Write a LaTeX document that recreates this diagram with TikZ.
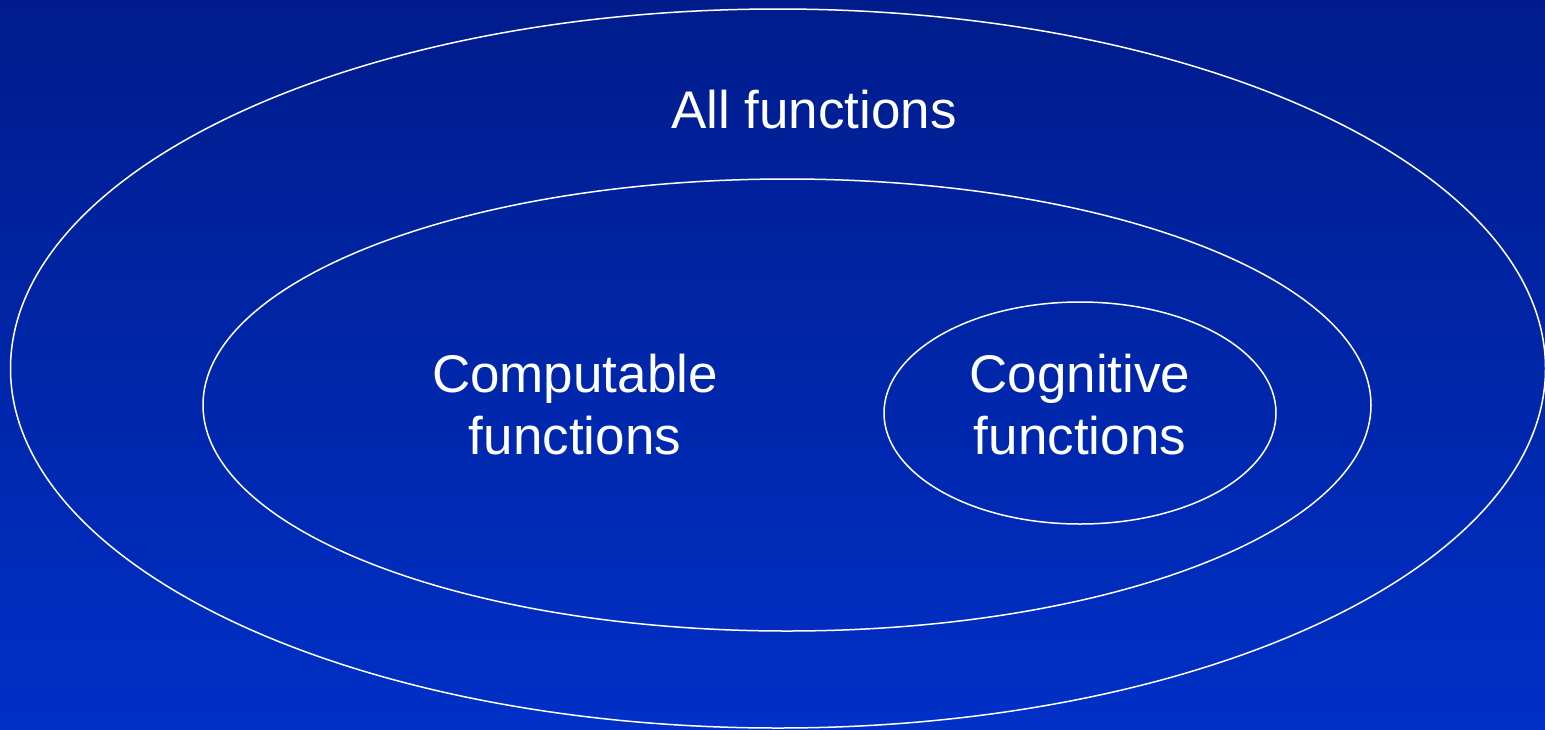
\documentclass[tikz,border=0pt]{standalone}
\usepackage{fontspec}
\setmainfont{Liberation Sans}
\definecolor{bgtop}{RGB}{0,28,140}
\definecolor{bgbot}{RGB}{0,48,198}
\begin{document}
\begin{tikzpicture}[x=1pt,y=-1pt,
  setline/.style={draw=white,line width=1.5pt},
  lbl/.style={text=white,font=\fontsize{53}{62}\selectfont,align=center,inner sep=0pt}]
\shade[top color=bgtop,bottom color=bgbot] (0,0) rectangle (1545,729);
\useasboundingbox (0,0) rectangle (1545,729);
\draw[setline] (778,368.5) ellipse [x radius=767.5,y radius=359.5];
\draw[setline] (787,405) ellipse [x radius=584,y radius=226];
\draw[setline] (1080,413) ellipse [x radius=196,y radius=111];
\node[lbl] (all) at (814,110) {All functions};
\node[lbl] (comp) at (575,405) {Computable\\functions};
\node[lbl] (cog) at (1080,405) {Cognitive\\functions};
\end{tikzpicture}
\end{document}
